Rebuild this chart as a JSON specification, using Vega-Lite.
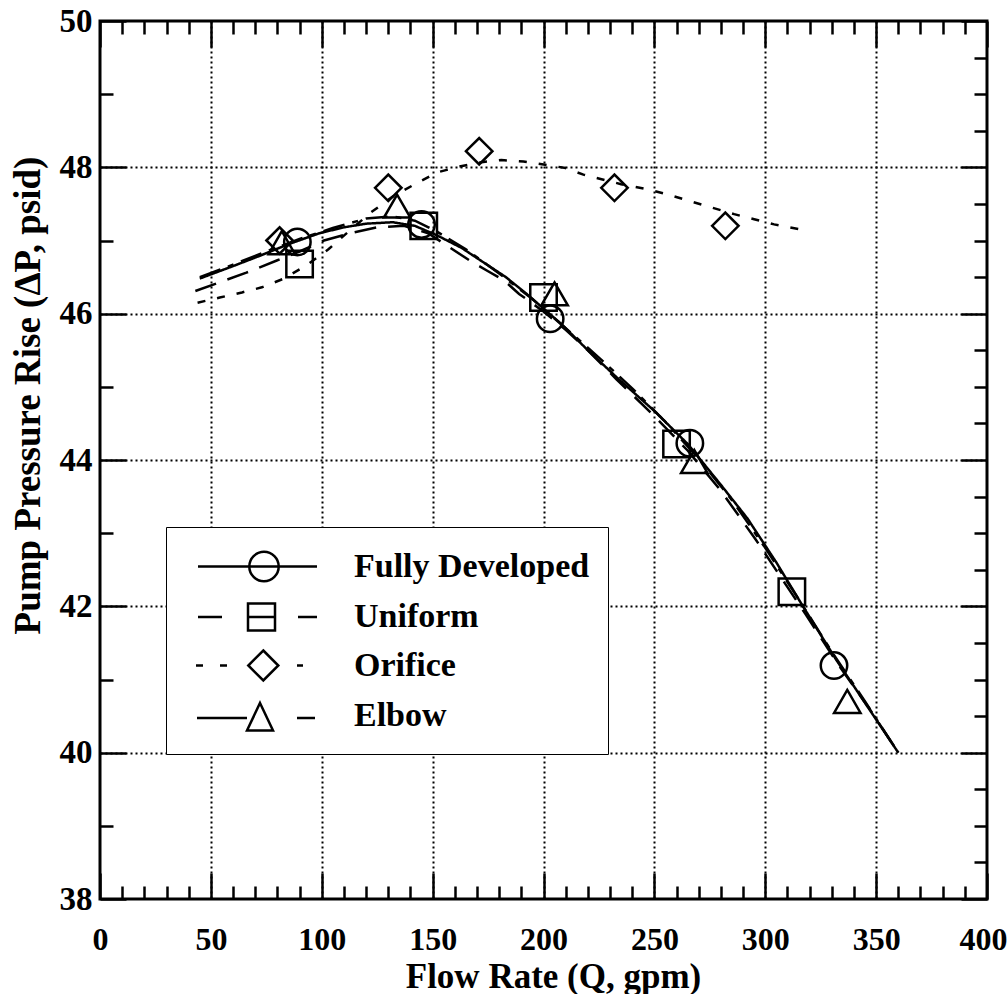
{
  "$schema": "https://vega.github.io/schema/vega-lite/v6.json",
  "width": 887,
  "height": 878,
  "autosize": {"type": "none"},
  "padding": {"left": 100, "top": 21, "right": 21, "bottom": 95},
  "background": "white",
  "config": {
    "view": {"stroke": "black", "strokeWidth": 3},
    "font": "Liberation Serif"
  },
  "datasets": {
    "curves": [
      {"series": "Fully Developed", "Q": 45, "dP": 46.48},
      {"series": "Fully Developed", "Q": 60, "dP": 46.65},
      {"series": "Fully Developed", "Q": 72, "dP": 46.79},
      {"series": "Fully Developed", "Q": 85, "dP": 46.95},
      {"series": "Fully Developed", "Q": 99, "dP": 47.1},
      {"series": "Fully Developed", "Q": 110, "dP": 47.18},
      {"series": "Fully Developed", "Q": 120, "dP": 47.23},
      {"series": "Fully Developed", "Q": 132, "dP": 47.25},
      {"series": "Fully Developed", "Q": 142, "dP": 47.2},
      {"series": "Fully Developed", "Q": 152, "dP": 47.07},
      {"series": "Fully Developed", "Q": 163, "dP": 46.9},
      {"series": "Fully Developed", "Q": 174, "dP": 46.68},
      {"series": "Fully Developed", "Q": 183, "dP": 46.5},
      {"series": "Fully Developed", "Q": 192, "dP": 46.28},
      {"series": "Fully Developed", "Q": 200, "dP": 46.07},
      {"series": "Fully Developed", "Q": 208, "dP": 45.86},
      {"series": "Fully Developed", "Q": 220, "dP": 45.5},
      {"series": "Fully Developed", "Q": 233, "dP": 45.13},
      {"series": "Fully Developed", "Q": 250, "dP": 44.67},
      {"series": "Fully Developed", "Q": 265, "dP": 44.22},
      {"series": "Fully Developed", "Q": 280, "dP": 43.66},
      {"series": "Fully Developed", "Q": 292, "dP": 43.2},
      {"series": "Fully Developed", "Q": 305, "dP": 42.6},
      {"series": "Fully Developed", "Q": 317, "dP": 42.0},
      {"series": "Fully Developed", "Q": 332, "dP": 41.27},
      {"series": "Fully Developed", "Q": 345, "dP": 40.68},
      {"series": "Fully Developed", "Q": 360, "dP": 40.0},
      {"series": "Uniform", "Q": 43, "dP": 46.31},
      {"series": "Uniform", "Q": 55, "dP": 46.44},
      {"series": "Uniform", "Q": 66, "dP": 46.56},
      {"series": "Uniform", "Q": 80, "dP": 46.73},
      {"series": "Uniform", "Q": 90, "dP": 46.85},
      {"series": "Uniform", "Q": 101, "dP": 47.0},
      {"series": "Uniform", "Q": 113, "dP": 47.1},
      {"series": "Uniform", "Q": 125, "dP": 47.18},
      {"series": "Uniform", "Q": 137, "dP": 47.2},
      {"series": "Uniform", "Q": 148, "dP": 47.1},
      {"series": "Uniform", "Q": 158, "dP": 46.9},
      {"series": "Uniform", "Q": 167, "dP": 46.72},
      {"series": "Uniform", "Q": 175, "dP": 46.58},
      {"series": "Uniform", "Q": 182, "dP": 46.46},
      {"series": "Uniform", "Q": 189, "dP": 46.27},
      {"series": "Uniform", "Q": 200, "dP": 46.03},
      {"series": "Uniform", "Q": 210, "dP": 45.78},
      {"series": "Uniform", "Q": 220, "dP": 45.5},
      {"series": "Uniform", "Q": 233, "dP": 45.1},
      {"series": "Uniform", "Q": 250, "dP": 44.6},
      {"series": "Uniform", "Q": 265, "dP": 44.13},
      {"series": "Uniform", "Q": 280, "dP": 43.58},
      {"series": "Uniform", "Q": 296, "dP": 42.9},
      {"series": "Uniform", "Q": 307, "dP": 42.4},
      {"series": "Uniform", "Q": 318, "dP": 41.9},
      {"series": "Uniform", "Q": 333, "dP": 41.2},
      {"series": "Uniform", "Q": 347, "dP": 40.6},
      {"series": "Uniform", "Q": 360, "dP": 40.0},
      {"series": "Orifice", "Q": 44, "dP": 46.15},
      {"series": "Orifice", "Q": 54, "dP": 46.22},
      {"series": "Orifice", "Q": 64, "dP": 46.29},
      {"series": "Orifice", "Q": 73, "dP": 46.36},
      {"series": "Orifice", "Q": 83, "dP": 46.48},
      {"series": "Orifice", "Q": 93, "dP": 46.66},
      {"series": "Orifice", "Q": 103, "dP": 46.88},
      {"series": "Orifice", "Q": 112, "dP": 47.12},
      {"series": "Orifice", "Q": 122, "dP": 47.38},
      {"series": "Orifice", "Q": 132, "dP": 47.6},
      {"series": "Orifice", "Q": 142, "dP": 47.77},
      {"series": "Orifice", "Q": 152, "dP": 47.93},
      {"series": "Orifice", "Q": 162, "dP": 48.01},
      {"series": "Orifice", "Q": 172, "dP": 48.07},
      {"series": "Orifice", "Q": 181, "dP": 48.1},
      {"series": "Orifice", "Q": 191, "dP": 48.08},
      {"series": "Orifice", "Q": 200, "dP": 48.04},
      {"series": "Orifice", "Q": 210, "dP": 47.99},
      {"series": "Orifice", "Q": 218, "dP": 47.9},
      {"series": "Orifice", "Q": 235, "dP": 47.77},
      {"series": "Orifice", "Q": 247, "dP": 47.7},
      {"series": "Orifice", "Q": 256, "dP": 47.63},
      {"series": "Orifice", "Q": 267, "dP": 47.53},
      {"series": "Orifice", "Q": 276, "dP": 47.45},
      {"series": "Orifice", "Q": 286, "dP": 47.36},
      {"series": "Orifice", "Q": 295, "dP": 47.29},
      {"series": "Orifice", "Q": 304, "dP": 47.22},
      {"series": "Orifice", "Q": 316, "dP": 47.15},
      {"series": "Elbow", "Q": 45, "dP": 46.5},
      {"series": "Elbow", "Q": 60, "dP": 46.67},
      {"series": "Elbow", "Q": 75, "dP": 46.85},
      {"series": "Elbow", "Q": 90, "dP": 47.02},
      {"series": "Elbow", "Q": 105, "dP": 47.17},
      {"series": "Elbow", "Q": 120, "dP": 47.3},
      {"series": "Elbow", "Q": 132, "dP": 47.33},
      {"series": "Elbow", "Q": 142, "dP": 47.27},
      {"series": "Elbow", "Q": 152, "dP": 47.12},
      {"series": "Elbow", "Q": 165, "dP": 46.88},
      {"series": "Elbow", "Q": 180, "dP": 46.55},
      {"series": "Elbow", "Q": 195, "dP": 46.2},
      {"series": "Elbow", "Q": 210, "dP": 45.8},
      {"series": "Elbow", "Q": 225, "dP": 45.4},
      {"series": "Elbow", "Q": 240, "dP": 44.98},
      {"series": "Elbow", "Q": 255, "dP": 44.52},
      {"series": "Elbow", "Q": 270, "dP": 44.02},
      {"series": "Elbow", "Q": 285, "dP": 43.45},
      {"series": "Elbow", "Q": 300, "dP": 42.8},
      {"series": "Elbow", "Q": 315, "dP": 42.1},
      {"series": "Elbow", "Q": 330, "dP": 41.38},
      {"series": "Elbow", "Q": 345, "dP": 40.7},
      {"series": "Elbow", "Q": 360, "dP": 40.0}
    ],
    "markers": [
      {"series": "Fully Developed", "Q": 89, "dP": 46.98},
      {"series": "Fully Developed", "Q": 145, "dP": 47.22},
      {"series": "Fully Developed", "Q": 203, "dP": 45.93},
      {"series": "Fully Developed", "Q": 266, "dP": 44.23},
      {"series": "Fully Developed", "Q": 331, "dP": 41.19},
      {"series": "Uniform", "Q": 90, "dP": 46.68},
      {"series": "Uniform", "Q": 146, "dP": 47.2},
      {"series": "Uniform", "Q": 200, "dP": 46.22},
      {"series": "Uniform", "Q": 260, "dP": 44.22},
      {"series": "Uniform", "Q": 312, "dP": 42.2},
      {"series": "Orifice", "Q": 81, "dP": 47.0},
      {"series": "Orifice", "Q": 130, "dP": 47.72},
      {"series": "Orifice", "Q": 171, "dP": 48.22},
      {"series": "Orifice", "Q": 232, "dP": 47.72},
      {"series": "Orifice", "Q": 282, "dP": 47.2},
      {"series": "Elbow", "Q": 82, "dP": 46.97},
      {"series": "Elbow", "Q": 134, "dP": 47.47},
      {"series": "Elbow", "Q": 205, "dP": 46.27},
      {"series": "Elbow", "Q": 268, "dP": 43.98},
      {"series": "Elbow", "Q": 337, "dP": 40.7}
    ]
  },
  "resolve": {
    "axis": {"x": "independent", "y": "independent"},
    "scale": {"shape": "independent"},
    "legend": {"shape": "independent"}
  },
  "layer": [
    {
      "data": {"name": "curves"},
      "mark": {"type": "line", "color": "black", "strokeWidth": 2.5, "clip": true},
      "encoding": {
        "x": {
          "field": "Q", "type": "quantitative",
          "scale": {"domain": [0, 400], "nice": false, "zero": false},
          "axis": {
            "orient": "bottom",
            "values": [0,10,20,30,40,50,60,70,80,90,100,110,120,130,140,150,160,170,180,190,200,210,220,230,240,250,260,270,280,290,300,310,320,330,340,350,360,370,380,390,400],
            "format": "d",
            "labelExpr": "datum.value % 50 === 0 ? datum.label : ''",
            "labelFont": "Liberation Serif", "labelFontSize": 32, "labelFontWeight": "bold", "labelColor": "black",
            "labelPadding": 51, "labelFlush": false, "labelOverlap": false, "labelBound": false,
            "labelOffset": {"condition": {"test": "datum.value === 400", "value": -4}, "value": 0},
            "tickSize": {"condition": {"test": "datum.value % 50 === 0", "value": -26}, "value": -13},
            "tickWidth": 2.5, "tickColor": "black",
            "grid": true,
            "gridOpacity": {"condition": {"test": "datum.value % 50 === 0 && datum.value > 0 && datum.value < 400", "value": 1}, "value": 0},
            "gridDash": [2, 3], "gridWidth": 2, "gridColor": "black",
            "domain": false,
            "title": "Flow Rate (Q, gpm)",
            "titleFont": "Liberation Serif", "titleFontSize": 35, "titleFontWeight": "bold", "titleColor": "black",
            "titleX": 453, "titleY": 88, "titleBaseline": "alphabetic", "titleAlign": "center"
          }
        },
        "y": {
          "field": "dP", "type": "quantitative",
          "scale": {"domain": [38, 50], "nice": false, "zero": false},
          "axis": {
            "orient": "left",
            "values": [38,38.5,39,39.5,40,40.5,41,41.5,42,42.5,43,43.5,44,44.5,45,45.5,46,46.5,47,47.5,48,48.5,49,49.5,50],
            "format": "d",
            "labelExpr": "datum.value % 2 === 0 ? datum.label : ''",
            "labelFont": "Liberation Serif", "labelFontSize": 33, "labelFontWeight": "bold", "labelColor": "black",
            "labelPadding": 34, "labelFlush": false, "labelOverlap": false, "labelBound": false,
            "tickSize": {"condition": {"test": "datum.value % 2 === 0", "value": -26}, "value": -13},
            "tickWidth": 2.5, "tickColor": "black",
            "grid": true,
            "gridOpacity": {"condition": {"test": "datum.value % 2 === 0 && datum.value > 38 && datum.value < 50", "value": 1}, "value": 0},
            "gridDash": [2, 3], "gridWidth": 2, "gridColor": "black",
            "domain": false,
            "title": "Pump Pressure Rise (ΔP, psid)",
            "titleFont": "Liberation Serif", "titleFontSize": 37, "titleFontWeight": "bold", "titleColor": "black",
            "titleX": -72, "titleY": 374, "titleAngle": -90, "titleBaseline": "middle", "titleAlign": "center"
          }
        },
        "strokeDash": {
          "field": "series", "type": "nominal",
          "scale": {"domain": ["Fully Developed", "Uniform", "Orifice", "Elbow"], "range": [[1, 0], [22, 12], [8, 12], [22, 8, 6, 8]]},
          "legend": null
        }
      }
    },
    {
      "data": {"name": "markers"},
      "mark": {"type": "point", "filled": false, "color": "black", "strokeWidth": 2.5, "size": 700, "opacity": 1},
      "encoding": {
        "x": {
          "field": "Q", "type": "quantitative",
          "axis": {
            "orient": "top",
            "values": [0,10,20,30,40,50,60,70,80,90,100,110,120,130,140,150,160,170,180,190,200,210,220,230,240,250,260,270,280,290,300,310,320,330,340,350,360,370,380,390,400],
            "labels": false, "grid": false, "domain": false, "title": null,
            "tickSize": {"condition": {"test": "datum.value % 50 === 0", "value": -26}, "value": -13},
            "tickWidth": 2.5, "tickColor": "black"
          }
        },
        "y": {
          "field": "dP", "type": "quantitative",
          "axis": {
            "orient": "right",
            "values": [38,38.5,39,39.5,40,40.5,41,41.5,42,42.5,43,43.5,44,44.5,45,45.5,46,46.5,47,47.5,48,48.5,49,49.5,50],
            "labels": false, "grid": false, "domain": false, "title": null,
            "tickSize": {"condition": {"test": "datum.value % 2 === 0", "value": -26}, "value": -13},
            "tickWidth": 2.5, "tickColor": "black"
          }
        },
        "shape": {
          "field": "series", "type": "nominal",
          "scale": {"domain": ["Fully Developed", "Uniform", "Orifice", "Elbow"], "range": ["circle", "square", "diamond", "triangle-up"]},
          "legend": null
        }
      }
    },
    {
      "data": {"name": "markers"},
      "mark": {"type": "point", "filled": false, "color": "black", "strokeWidth": 2.5, "opacity": 0},
      "encoding": {
        "x": {"field": "Q", "type": "quantitative", "axis": null},
        "y": {"field": "dP", "type": "quantitative", "axis": null},
        "shape": {
          "field": "series", "type": "nominal",
          "scale": {
            "domain": ["Fully Developed", "Uniform", "Orifice", "Elbow"],
            "range": [
              "M-3.05,0L2.9,0M0.985,0A0.735,0.735 0 1 1 -0.485,0A0.735,0.735 0 1 1 0.985,0",
              "M-3.05,0L-1.85,0M-0.55,-0.675L0.8,-0.675L0.8,0.675L-0.55,0.675ZM-0.55,0L0.8,0M1.95,0L2.9,0",
              "M-3.15,0L-2.8,0M-1.95,0L-1.6,0M0.215,-0.75L0.965,0L0.215,0.75L-0.535,0ZM1.9,0L2.2,0",
              "M-3.1,0.1L-0.6,0.1M0.05,-0.65L0.7,0.725L-0.6,0.725ZM1.9,0.1L2.8,0.1"
            ]
          },
          "legend": {
            "title": null,
            "orient": "none",
            "legendX": 66,
            "legendY": 506,
            "padding": 18,
            "fillColor": "white",
            "strokeColor": "black",
            "symbolSize": 1600,
            "symbolStrokeWidth": 2.5,
            "symbolStrokeColor": "black",
            "symbolFillColor": "transparent",
            "symbolOpacity": 1,
            "symbolOffset": 53.5,
            "labelOffset": 73.5,
            "labelFont": "Liberation Serif",
            "labelFontSize": 34,
            "labelFontWeight": "bold",
            "labelColor": "black",
            "labelLimit": 500,
            "rowPadding": 8.5,
            "encode": {
              "legend": {"update": {"strokeWidth": {"value": 2.5}}},
              "symbols": {"update": {"opacity": {"value": 1}, "strokeOpacity": {"value": 1}}}
            }
          }
        }
      }
    }
  ]
}
